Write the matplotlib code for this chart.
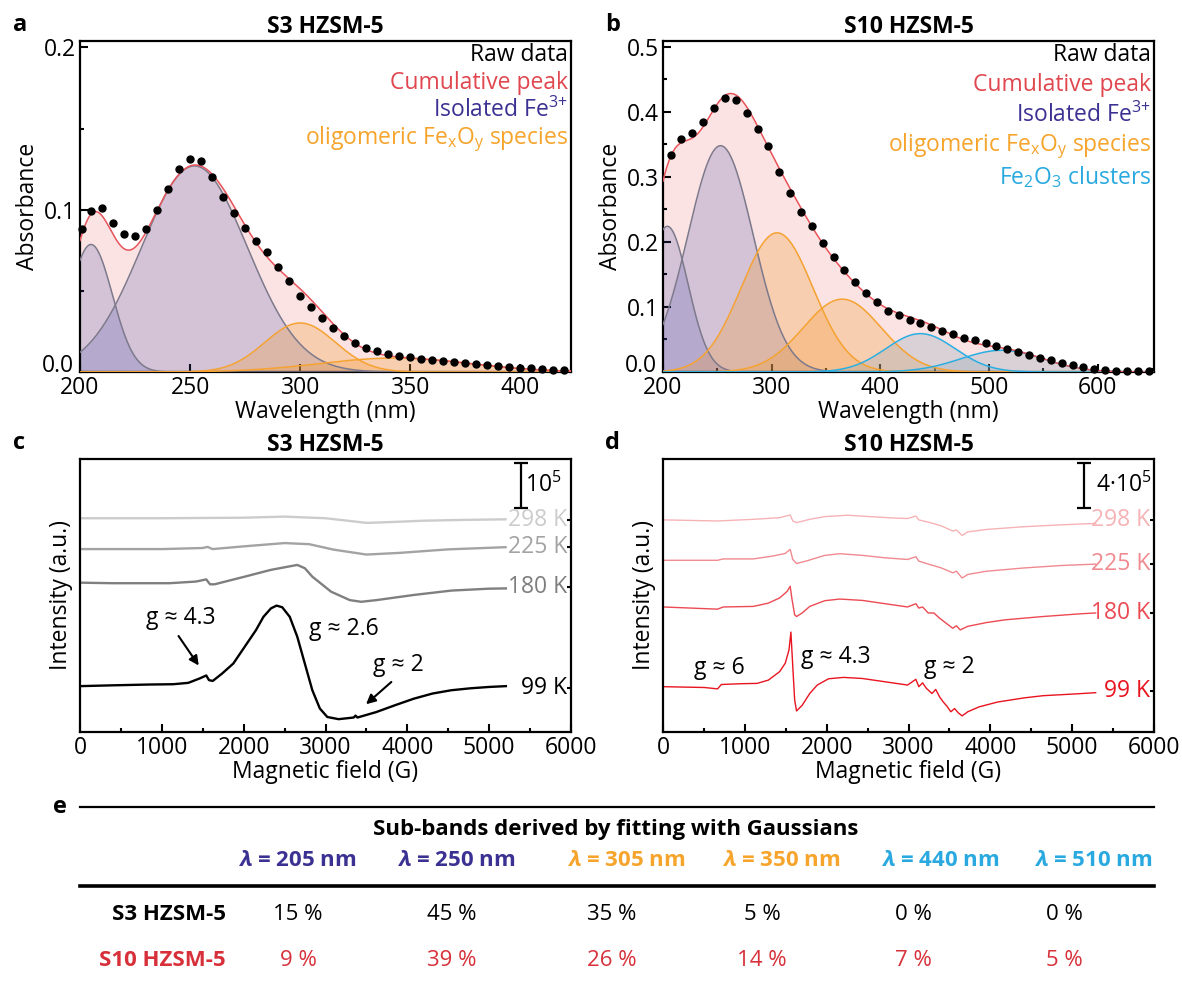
import numpy as np
import matplotlib
matplotlib.use("Agg")
import matplotlib.pyplot as plt
from matplotlib.ticker import MultipleLocator, FuncFormatter
from matplotlib.lines import Line2D

plt.rcParams['font.family'] = ['Open Sans', 'DejaVu Sans']
plt.rcParams['mathtext.fontset'] = 'custom'
plt.rcParams['mathtext.rm'] = 'Open Sans'
plt.rcParams['mathtext.it'] = 'Open Sans:italic:bold'
plt.rcParams['mathtext.bf'] = 'Open Sans:bold'
plt.rcParams['axes.linewidth'] = 1.6

FS = 16.5
TFS = 16

# ---------------- data: UV-vis, S3 ----------------
wl_a = [201, 205, 210, 215, 220, 225, 230, 235, 240, 245, 250, 255, 260, 265, 270,
        275, 280, 285, 290, 295, 300, 305, 310, 315, 320, 325, 330, 335, 340, 345,
        350, 355, 360, 365, 370, 375, 380, 385, 390, 395, 400, 405, 410, 415, 420]
abs_a = [0.088, 0.099, 0.101, 0.092, 0.085, 0.084, 0.088, 0.100, 0.113, 0.125, 0.131,
         0.130, 0.120, 0.108, 0.098, 0.089, 0.081, 0.074, 0.065, 0.056, 0.047, 0.040,
         0.033, 0.027, 0.022, 0.018, 0.015, 0.013, 0.011, 0.010, 0.009, 0.0083, 0.0077,
         0.007, 0.0063, 0.0057, 0.005, 0.0043, 0.0037, 0.0031, 0.0027, 0.0022, 0.0018,
         0.0015, 0.0012]
# gaussian sub-bands: centre, height, sigma, species
peaks_a = [(205, 0.0786, 9.7, 'iso'), (252, 0.127, 24.0, 'iso'),
           (300, 0.0302, 16.0, 'oli'), (343, 0.0086, 34.0, 'oli')]

# ---------------- data: UV-vis, S10 ----------------
wl_b = [207, 217, 227, 237, 247, 257, 267, 277, 287, 297, 307, 317, 327, 337, 347,
        357, 367, 377, 387, 397, 407, 417, 427, 437, 447, 457, 467, 477, 487, 497,
        507, 517, 527, 537, 547, 557, 567, 577, 587, 597, 607, 617, 627, 637, 647]
abs_b = [0.334, 0.359, 0.368, 0.384, 0.406, 0.422, 0.419, 0.399, 0.374, 0.347, 0.308,
         0.275, 0.246, 0.224, 0.198, 0.177, 0.157, 0.138, 0.121, 0.107, 0.094, 0.087,
         0.080, 0.075, 0.069, 0.063, 0.058, 0.053, 0.049, 0.045, 0.040, 0.035, 0.030,
         0.026, 0.022, 0.018, 0.014, 0.010, 0.007, 0.005, 0.003, 0.002, 0.0015, 0.001,
         0.001]
peaks_b = [(204, 0.224, 19.0, 'iso'), (253, 0.348, 30.0, 'iso'),
           (305, 0.214, 33.0, 'oli'), (365, 0.112, 36.0, 'oli'),
           (437, 0.059, 32.0, 'clu'), (512, 0.0334, 38.0, 'clu')]

# ---------------- data: EPR, S3 ----------------
c_field_298 = [0, 1000, 2000, 2500, 3000, 3300, 3500, 3800, 4200, 4700, 5200]
c_int_298 = [78.3, 78.3, 78.5, 78.9, 78.3, 77.3, 76.6, 76.9, 77.4, 77.7, 77.9]
c_field_225 = [0, 1000, 1500, 1560, 1620, 2000, 2500, 2800, 3100, 3500, 3900, 4500, 5200]
c_int_225 = [67.0, 67.0, 67.4, 67.8, 67.0, 68.0, 69.2, 68.8, 66.8, 65.0, 65.6, 66.9, 67.7]
c_field_180 = [0, 404, 1093, 1415, 1543, 1589, 1644, 2012, 2334, 2655, 2747, 2839,
               3068, 3298, 3436, 3620, 4079, 4538, 4998, 5204]
c_int_180 = [54.7, 54.5, 54.5, 55.1, 55.9, 54.1, 54.1, 56.9, 59.4, 61.2, 60.0, 56.9,
             51.4, 48.3, 47.7, 48.3, 50.2, 51.8, 52.5, 52.6]
c_field_99 = [0, 404, 864, 1139, 1323, 1461, 1543, 1576, 1622, 1736, 1874, 2012, 2150,
              2242, 2334, 2402, 2471, 2563, 2655, 2747, 2839, 2931, 3022, 3160, 3344,
              3367, 3390, 3482, 3620, 3849, 4079, 4309, 4538, 4768, 4998, 5204]
c_int_99 = [16.8, 17.1, 17.4, 17.5, 18.0, 19.6, 20.7, 19.0, 18.7, 21.4, 25.1, 31.2, 37.3,
            42.2, 45.3, 46.3, 45.7, 42.2, 34.9, 25.1, 15.3, 8.6, 5.5, 4.7, 5.3,
            6.0, 5.3, 6.1, 7.3, 9.8, 12.2, 14.1, 15.3, 16.0, 16.5, 16.8]

# ---------------- data: EPR, S10 ----------------
d_field_298 = [0, 667, 1103, 1425, 1554, 1586, 1632, 1793, 1977, 2253, 2529, 2805, 2989,
               3090, 3126, 3264, 3402, 3540, 3586, 3655, 3724, 3954, 4414, 4874, 5287]
d_int_298 = [77.7, 77.3, 77.9, 78.5, 79.5, 77.3, 76.7, 77.9, 78.9, 79.4, 78.9, 78.4, 78.2,
             79.1, 77.7, 76.7, 75.5, 73.6, 74.0, 72.0, 73.3, 74.2, 75.2, 75.9, 76.4]
d_field_225 = [0, 667, 736, 1103, 1333, 1494, 1554, 1586, 1632, 1747, 1977, 2161, 2437,
               2713, 2989, 3090, 3126, 3264, 3402, 3540, 3586, 3655, 3724, 3954, 4414,
               4874, 5287]
d_int_225 = [62.9, 62.9, 63.4, 63.4, 64.4, 65.4, 66.9, 63.2, 61.7, 62.6, 64.7, 65.3, 64.7,
             63.8, 63.2, 64.2, 62.6, 61.3, 60.1, 58.3, 58.9, 56.4, 57.7, 58.9, 60.1,
             61.0, 61.5]
d_field_180 = [0, 667, 736, 1103, 1287, 1425, 1517, 1554, 1577, 1609, 1632, 1701, 1793,
               1977, 2161, 2437, 2713, 2989, 3090, 3126, 3172, 3241, 3310, 3379, 3471,
               3540, 3586, 3632, 3724, 3954, 4184, 4644, 5103, 5287]
d_int_180 = [45.8, 45.0, 45.8, 46.0, 47.2, 49.1, 51.5, 53.4, 48.5, 42.9, 42.3, 43.6, 46.0,
             48.1, 48.7, 48.2, 47.0, 45.8, 47.0, 45.4, 45.8, 43.6, 43.6, 41.7, 39.6,
             38.0, 38.9, 37.4, 38.7, 40.1, 41.1, 42.3, 43.3, 43.6]
d_field_99 = [0, 506, 667, 713, 966, 1149, 1287, 1425, 1494, 1540, 1563, 1586, 1609, 1632,
              1701, 1793, 1885, 2023, 2207, 2437, 2713, 2989, 3090, 3126, 3172, 3218,
              3287, 3333, 3379, 3425, 3471, 3517, 3563, 3609, 3655, 3724, 3862, 4092,
              4414, 4644, 5011, 5287]
d_int_99 = [16.6, 16.3, 15.8, 17.4, 17.7, 17.8, 19.0, 22.1, 25.2, 30.1, 36.6, 23.9, 11.7,
            7.7, 9.8, 14.1, 17.2, 19.5, 20.0, 19.6, 18.4, 17.2, 19.3, 16.6, 18.0, 16.0,
            14.1, 15.6, 12.9, 11.0, 9.4, 7.4, 8.6, 7.0, 5.9, 7.4, 9.2, 11.0, 12.5, 13.3,
            13.9, 14.4]

temps = ['298 K', '225 K', '180 K', '99 K']
c_label_y = [77.7, 67.9, 53.0, 16.3]
d_label_y = [77.7, 61.5, 43.6, 15.1]

# ---------------- data: table ----------------
band_labels = ['λ = 205 nm', 'λ = 250 nm', 'λ = 305 nm', 'λ = 350 nm', 'λ = 440 nm', 'λ = 510 nm']
band_species = ['iso', 'iso', 'oli', 'oli', 'clu', 'clu']
s3_share = ['15 %', '45 %', '35 %', '5 %', '0 %', '0 %']
s10_share = ['9 %', '39 %', '26 %', '14 %', '7 %', '5 %']

# ---------------- colours ----------------
RED_LINE = '#e8535a'
PINK_FILL = '#fbe3e3'
spec_line = {'iso': '#7d7a8c', 'oli': '#f5a231', 'clu': '#2aaee2'}
spec_fill = {'iso': ('#3a44a8', 0.2), 'oli': ('#f39a30', 0.28), 'clu': ('#8fa8b8', 0.3)}
spec_text = {'iso': '#3b3192', 'oli': '#f6a42c', 'clu': '#29a9e0'}
c_colors = ['#cccccc', '#a3a3a3', '#7f7f7f', '#000000']
d_colors = ['#f6b3b6', '#f08a90', '#ec4a53', '#e8141f']


def style_ticks(ax):
    ax.tick_params(which='both', direction='in', top=False, right=False,
                   labelsize=FS, pad=3, width=1.5)
    ax.tick_params(which='major', length=6)
    ax.tick_params(which='minor', length=3)


def skip_zero(v, pos):
    # the zero label is drawn by hand a little higher, clear of the x labels
    return '' if abs(v) < 1e-9 else '%.1f' % v


def uv_panel(ax, wl, ab, peaks, xlim, ylim, title, legend_y, with_clusters):
    x = np.linspace(xlim[0], xlim[1], 800)
    total = np.zeros_like(x)
    comps = []
    for cen, h, s, kind in peaks:
        g = h * np.exp(-(x - cen) ** 2 / (2 * s ** 2))
        comps.append((g, kind))
        total += g
    ax.fill_between(x, 0, total, color=PINK_FILL, lw=0, zorder=1)
    for g, kind in comps:
        col, al = spec_fill[kind]
        ax.fill_between(x, 0, g, color=col, alpha=al, lw=0, zorder=2)
    for g, kind in comps:
        ax.plot(x, g, color=spec_line[kind], lw=1.1, zorder=3)
    ax.plot(x, total, color=RED_LINE, lw=1.1, zorder=4)
    ax.plot(wl, ab, 'o', color='black', ms=5, zorder=5, clip_on=False)
    ax.set_xlim(*xlim)
    ax.set_ylim(*ylim)
    ax.set_title(title, fontsize=FS, fontweight='bold', pad=6)
    ax.set_xlabel('Wavelength (nm)', fontsize=FS, labelpad=0)
    ax.set_ylabel('Absorbance', fontsize=FS, labelpad=3)
    ax.yaxis.set_major_formatter(FuncFormatter(skip_zero))
    ax.text(-0.012, 0.0, '0.0', transform=ax.transAxes, fontsize=FS,
            ha='right', va='baseline')
    style_ticks(ax)
    texts = [('Raw data', 'black'), ('Cumulative peak', '#e0474f'),
             ('Isolated Fe$^{3{+}}$', spec_text['iso']),
             (r'oligomeric Fe$_\mathrm{x}$O$_\mathrm{y}$ species', spec_text['oli'])]
    if with_clusters:
        texts.append((r'Fe$_2$O$_3$ clusters', spec_text['clu']))
    for (t, c), yy in zip(texts, legend_y):
        ax.text(0.994, yy, t, color=c, fontsize=FS, ha='right', va='center',
                transform=ax.transAxes)


def epr_panel(ax, fields, ints, colors, label_y, title, lw):
    for f, i, col in zip(fields, ints, colors):
        ax.plot(f, i, color=col, lw=lw)
    for t, yy, col in zip(temps, label_y, colors):
        ax.text(5950, yy, t, color=col, fontsize=FS, ha='right', va='center')
    ax.set_xlim(0, 6000)
    ax.set_ylim(0, 100)
    ax.xaxis.set_major_locator(MultipleLocator(1000))
    ax.xaxis.set_minor_locator(MultipleLocator(500))
    ax.set_title(title, fontsize=FS, fontweight='bold', pad=6)
    ax.set_xlabel('Magnetic field (G)', fontsize=FS, labelpad=0)
    style_ticks(ax)
    ax.set_yticks(label_y)
    ax.tick_params(axis='y', left=False, right=True, labelleft=False, length=3)


fig = plt.figure(figsize=(11.82, 9.81), dpi=100)
W, H = 1182.0, 981.0

ax_a = fig.add_axes([80 / W, 1 - 372 / H, 491 / W, 331 / H])
ax_b = fig.add_axes([663 / W, 1 - 372 / H, 491 / W, 331 / H])
ax_c = fig.add_axes([80 / W, 1 - 732 / H, 491 / W, 273 / H])
ax_d = fig.add_axes([663 / W, 1 - 732 / H, 491 / W, 273 / H])

uv_panel(ax_a, wl_a, abs_a, peaks_a, (200, 423), (0, 0.204), 'S3 HZSM-5',
         [0.958, 0.873, 0.790, 0.703], False)
ax_a.xaxis.set_major_locator(MultipleLocator(50))
ax_a.yaxis.set_major_locator(MultipleLocator(0.1))
ax_a.yaxis.set_minor_locator(MultipleLocator(0.05))

uv_panel(ax_b, wl_b, abs_b, peaks_b, (200, 652), (0, 0.509), 'S10 HZSM-5',
         [0.958, 0.866, 0.776, 0.682, 0.590], True)
ax_b.xaxis.set_major_locator(MultipleLocator(100))
ax_b.xaxis.set_minor_locator(MultipleLocator(50))
ax_b.yaxis.set_major_locator(MultipleLocator(0.1))
ax_b.yaxis.set_minor_locator(MultipleLocator(0.05))

epr_panel(ax_c, [c_field_298, c_field_225, c_field_180, c_field_99],
          [c_int_298, c_int_225, c_int_180, c_int_99], c_colors, c_label_y,
          'S3 HZSM-5', 1.7)
ax_c.set_ylabel('Intensity (a.u.)', fontsize=FS, labelpad=5)
ax_c.errorbar([5388], [90.3], yerr=[8.2], color='black', capsize=5, lw=1.6, capthick=1.6)
ax_c.text(5440, 90.3, '10$^5$', fontsize=FS, va='center', ha='left')
ax_c.text(1231, 41.6, 'g ≈ 4.3', fontsize=FS, ha='center', va='center')
ax_c.annotate('', xy=(1470, 23.5), xytext=(1185, 36.0),
              arrowprops=dict(arrowstyle='-|>', color='black', lw=1.5, mutation_scale=14))
ax_c.text(3229, 37.6, 'g ≈ 2.6', fontsize=FS, ha='center', va='center')
ax_c.text(3895, 24.5, 'g ≈ 2', fontsize=FS, ha='center', va='center')
ax_c.annotate('', xy=(3470, 9.5), xytext=(3830, 19.0),
              arrowprops=dict(arrowstyle='-|>', color='black', lw=1.5, mutation_scale=14))

epr_panel(ax_d, [d_field_298, d_field_225, d_field_180, d_field_99],
          [d_int_298, d_int_225, d_int_180, d_int_99], d_colors, d_label_y,
          'S10 HZSM-5', 1.0)
ax_d.set_ylabel('Intensity (a.u.)', fontsize=FS, labelpad=5)
ax_d.errorbar([5145], [90.3], yerr=[8.2], color='black', capsize=5, lw=1.6, capthick=1.6)
ax_d.text(5290, 90.3, '4·10$^5$', fontsize=FS, va='center', ha='left')
ax_d.text(690, 23.3, 'g ≈ 6', fontsize=FS, ha='center', va='center')
ax_d.text(2115, 27.6, 'g ≈ 4.3', fontsize=FS, ha='center', va='center')
ax_d.text(3494, 23.9, 'g ≈ 2', fontsize=FS, ha='center', va='center')

# panel letters
for lab, px, py in [('a', 13, 25), ('b', 605, 25), ('c', 13, 443), ('d', 605, 443), ('e', 53, 807)]:
    fig.text(px / W, 1 - py / H, lab, fontsize=17, fontweight='bold', ha='left', va='center')

# ---------------- table e ----------------
tab = fig.add_axes([0, 0, 1, 1])
tab.set_xlim(0, W)
tab.set_ylim(H, 0)
tab.set_axis_off()
tab.add_line(Line2D([80, 1154], [807, 807], color='black', lw=1.6))
tab.add_line(Line2D([80, 1154], [886, 886], color='black', lw=2.6))
tab.text(616, 829, 'Sub-bands derived by fitting with Gaussians', fontsize=TFS,
         fontweight='bold', ha='center', va='center')
head_x = [297, 456, 626, 781, 940, 1093]
val_x = [298, 452, 612, 762, 913, 1064]
for lab, kind, hx in zip(band_labels, band_species, head_x):
    txt = r'$\mathit{λ}$' + lab[1:]
    tab.text(hx, 861, txt, fontsize=TFS, fontweight='bold', color=spec_text[kind],
             ha='center', va='center')
tab.text(226, 915, 'S3 HZSM-5', fontsize=TFS, fontweight='bold', ha='right', va='center')
tab.text(226, 960, 'S10 HZSM-5', fontsize=TFS, fontweight='bold', color='#d7303a',
         ha='right', va='center')
for v3, v10, vx in zip(s3_share, s10_share, val_x):
    tab.text(vx, 915, v3, fontsize=TFS, ha='center', va='center')
    tab.text(vx, 960, v10, fontsize=TFS, ha='center', va='center', color='#d7303a')

fig.savefig('out.png', dpi=100)
